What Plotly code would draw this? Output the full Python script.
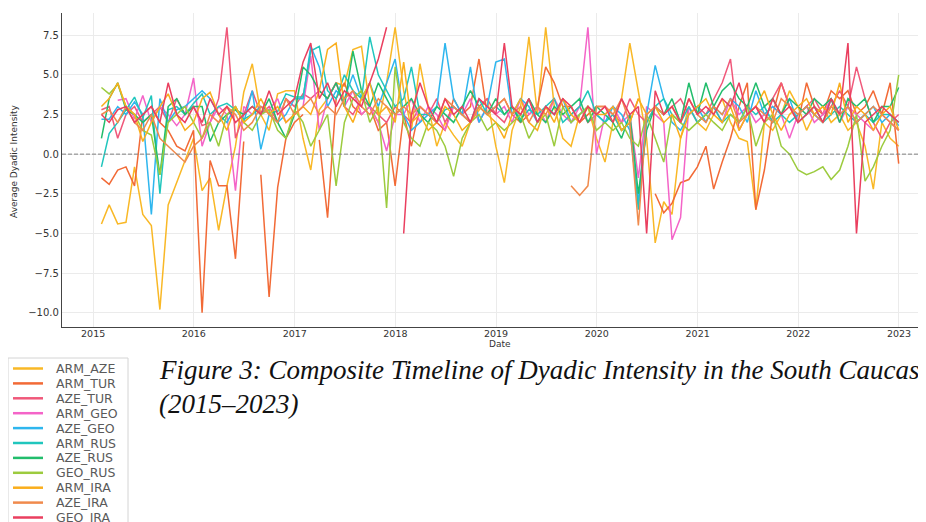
import pandas as pd
import plotly.graph_objects as go

N = None
dates = pd.date_range("2015-01-31", periods=96, freq="ME").strftime("%Y-%m-%d").tolist()

names = ["ARM_AZE", "ARM_TUR", "AZE_TUR", "ARM_GEO", "AZE_GEO", "ARM_RUS",
         "AZE_RUS", "GEO_RUS", "ARM_IRA", "AZE_IRA", "GEO_IRA"]
colors = ["#F9B826", "#F26A36", "#F0587A", "#F464C8", "#2EB6EE", "#20C6BD",
          "#22BD6C", "#9CCB3E", "#FAAE1C", "#F08A4C", "#EA3F5F"]

ARM_AZE = [
    -4.4, -3.2, -4.4, -4.3, -0.8, -3.8, -4.5, -9.8, -3.2, -1.8, -0.4, 1.0,
    -2.3, -1.5, -4.8, -2.0, 0.5, 3.9, 5.7, 2.5, 1.5, 3.8, 4.0, 4.0,
    1.0, -1.0, 2.8, 3.5, 4.5, 4.3, 6.6, 6.8, 3.0, 2.0, 4.5, 8.0,
    4.0, 1.5, 5.7, 3.0, 0.5, 2.0, 1.2, 0.5, 2.0, 2.8, 3.5, 0.5,
    -1.8, 1.5, 3.0, 7.4, 2.5, 8.0, 3.0, 1.0, 0.5, 2.5, 3.0, 1.0,
    -0.5, 2.0, 3.5, 7.0, 4.0, 1.0, -5.6, -3.0, -3.8, 1.0, 3.0, 2.0,
    1.5, 2.5, 3.5, 2.0, 1.0, 0.8, -3.5, 2.0, 1.5, 2.5, 4.0, 3.0,
    1.5, 2.5, 3.0, 2.0, 2.5, 1.5, 2.0, 0.5, -2.2, 2.0, 1.0, 0.5]
ARM_TUR = [
    -1.5, -1.9, -1.0, -0.8, -2.0, 2.5, 3.0, 2.0, 1.5, 0.5, 0.2, 1.5,
    -10.0, -0.4, -2.0, -2.0, -6.6, 0.8, N, -1.3, -9.0, -2.1, 1.0, 2.0,
    2.5, N, 0.9, -4.0, 3.5, 4.5, 3.0, 2.5, 3.0, 1.5, 2.0, -2.0,
    2.5, 0.5, 3.0, 2.5, 2.0, 1.5, 3.5, 2.5, 3.0, 6.0, 2.5, 3.0,
    3.5, 2.5, 2.0, 2.5, 3.0, 5.5, 4.5, 3.0, 3.0, 2.0, 2.5, 3.0,
    3.0, 2.5, 1.5, 2.0, 3.5, N, -2.5, -3.7, -3.1, -1.8, -1.6, -0.8,
    0.5, -2.2, -0.5, 1.0, 3.0, 4.5, -3.5, -1.0, 2.5, 4.5, 3.0, 2.0,
    4.5, 3.0, 2.5, 4.0, 3.5, 4.0, 2.5, 3.0, 4.0, 2.5, 4.5, -0.6]
AZE_TUR = [
    2.8, 3.0, 1.0, 2.5, 3.0, 2.0, 2.5, 3.0, 2.0, 3.5, 2.5, 3.0,
    1.8, 2.0, 3.5, 8.0, 1.0, 2.5, 4.0, 2.5, 3.0, 2.0, 3.5, 3.0,
    3.8, 3.5, 4.0, 3.5, 4.5, 3.0, 2.5, 3.5, 3.0, 2.5, 2.0, 3.0,
    2.5, 2.0, 3.0, 2.5, 3.5, 2.0, 3.0, 2.5, 2.0, 3.0, 3.5, 2.5,
    2.0, 3.0, 2.5, 3.5, 2.0, 3.0, 2.5, 3.5, 2.5, 3.0, 2.0, 2.5,
    3.0, 2.5, 2.0, 3.5, 2.5, 2.0, 3.0, 2.5, 3.0, 3.5, 2.5, 3.0,
    2.5, 3.5, 4.5, 6.0, 1.5, 2.5, 3.0, 2.0, 3.5, 4.5, 3.0, 2.5,
    3.0, 3.5, 2.5, 3.0, 4.0, 3.0, 5.5, 3.5, 2.0, 1.0, 2.0, 2.5]
ARM_GEO = [
    N, N, 3.4, 3.5, 2.2, 3.7, 2.0, 3.0, 2.5, 1.8, 2.5, 4.8,
    0.5, 2.0, 3.0, 2.5, -2.3, 3.0, 2.5, 3.0, 2.8, 3.5, 2.0, 2.5,
    3.0, 6.2, 1.5, 3.5, 4.5, 3.0, 4.0, 2.5, 3.0, 2.0, 0.2, 2.5,
    2.5, 3.5, 2.0, 3.0, 2.5, 1.5, 3.0, 2.5, 3.5, 2.0, 3.0, 2.5,
    3.0, 2.0, 3.5, 2.5, 3.0, 2.0, 3.5, 2.5, 2.0, 3.0, 8.0, 0.0,
    2.5, 3.0, 2.0, 2.5, -1.5, 3.0, 2.5, 2.0, -5.4, -4.0, 3.0, 2.0,
    2.5, 3.0, 2.0, 3.5, 2.5, 3.0, 2.0, 2.5, 3.0, 2.5, 1.0, 2.5,
    3.0, 2.0, 2.5, 3.5, 2.0, 3.0, 2.5, 2.0, 1.5, 2.5, 2.0, 1.5]
AZE_GEO = [
    2.2, 2.2, 3.0, 2.5, 3.3, 2.5, -3.8, 3.5, 2.0, 2.8, 3.0, 3.5,
    4.0, 3.5, 2.5, 2.0, 3.0, 2.0, 4.0, 0.3, 2.5, 2.0, 2.5, 3.5,
    3.5, 6.8, 5.5, 3.0, 4.0, 3.5, 5.0, 3.5, 4.5, 3.0, 4.5, 6.0,
    2.5, 1.5, 2.0, 2.5, 3.0, 7.0, 3.5, 2.5, 5.5, 2.0, 3.0, 5.8,
    6.0, 2.5, 3.5, 3.0, 2.0, 3.0, 2.5, 3.5, 2.0, 2.5, 3.0, 2.5,
    2.0, 3.0, 2.5, 1.5, -3.0, 2.5, 5.6, 3.5, 2.0, 1.5, 2.5, 3.0,
    2.0, 3.0, 2.5, 3.5, 3.0, 2.0, 4.0, 2.5, 3.0, 2.5, 3.5, 2.0,
    2.5, 3.0, 2.0, 3.5, 2.5, 3.0, 2.0, 2.5, 3.0, 2.0, 2.5, 1.8]
ARM_RUS = [
    -0.8, 1.3, 2.0, 2.8, 3.6, 2.3, 3.7, -2.5, 2.8, 3.0, 2.5, 3.2,
    3.8, 2.5, 3.0, 3.2, 2.8, 2.2, 2.5, 3.0, 2.6, 2.7, 3.8, 3.6,
    3.6, 6.5, 6.8, 4.0, 3.5, 5.0, 4.0, 3.5, 7.4, 5.0, 4.0, 3.0,
    3.5, 5.5, 2.5, 2.5, 2.0, 2.8, 3.0, 2.5, 2.0, 3.5, 2.5, 3.0,
    2.5, 3.0, 2.2, 2.8, 2.5, 3.0, 3.5, 2.0, 2.5, 3.0, 4.0, 2.5,
    2.0, 2.5, 1.5, 2.0, -3.5, 2.0, 3.0, 3.5, 2.5, 2.0, 3.0, 2.0,
    2.5, 3.0, 2.0, 2.5, 2.0, 3.0, 2.5, 3.0, 2.0, 2.5, 2.0, 2.5,
    3.0, 2.5, 2.0, 2.5, 3.0, 2.5, 2.0, 2.5, 2.0, 2.5, 2.5, 2.0]
AZE_RUS = [
    1.0, 3.5, 4.5, 2.8, 2.5, 2.0, 2.5, -1.3, 3.0, 3.5, 2.5, 3.0,
    3.0, 0.8, 2.0, 2.5, 2.8, 2.5, 3.0, 2.5, 3.5, 2.0, 1.0, 2.5,
    5.5, 5.0, 4.0, 3.5, 4.5, 3.0, 6.5, 4.0, 3.0, 4.5, 3.5, 2.5,
    3.0, 3.5, 2.5, 2.0, 3.0, 2.5, 2.0, 3.0, 4.0, 3.0, 2.5, 3.5,
    2.5, 3.0, 2.0, 3.5, 2.5, 2.0, 3.0, 2.5, 3.0, 3.5, 2.0, 3.0,
    2.5, 2.0, 1.0, 2.5, -2.5, 1.5, 3.0, 2.5, 3.5, 2.0, 4.5, 2.5,
    4.5, 3.0, 4.0, 4.5, 3.5, 3.0, 4.5, 3.0, 3.5, 2.5, 3.5, 3.0,
    2.5, 3.5, 3.0, 3.5, 2.0, 3.5, 3.0, 3.5, 2.0, 3.0, 3.0, 4.2]
GEO_RUS = [
    4.2, 3.8, 4.4, 3.0, 2.5, 1.5, 1.2, -1.3, 2.0, 2.5, 3.0, 2.0,
    1.0, 2.0, 0.5, 2.5, 3.0, 2.0, 1.5, 2.5, 2.8, 1.5, 1.0, 2.8,
    2.0, 0.5, 1.5, 2.5, -2.0, 2.0, 3.5, 4.0, 2.0, 3.0, -3.4, 5.5,
    2.0, 1.0, 0.5, 2.0, 1.5, 0.5, -1.4, 1.0, 2.0, 2.5, 1.5, 2.0,
    1.5, 2.0, 2.5, 1.0, 2.0, 2.5, 0.5, 3.0, 2.0, 2.5, 3.0, 1.5,
    2.0, 1.5, 2.0, 1.0, 0.5, 2.5, 1.0, -0.5, 2.5, 2.0, 1.5, 2.0,
    2.5, 2.0, 1.5, 2.5, 2.0, 3.0, 0.5, 2.0, 2.5, 0.5, 0.0, -1.0,
    -1.3, -1.1, -0.8, -1.6, -1.0, 0.5, 2.5, -1.7, -0.8, 0.5, 1.5, 5.0]
ARM_IRA = [
    3.0, 3.5, 4.5, 3.0, 2.5, 0.8, 2.0, 3.0, 3.8, 2.5, 1.5, 2.0,
    3.5, 3.9, 2.5, 1.5, 3.0, 2.0, 2.5, 3.5, 2.5, 3.0, 2.0, 2.5,
    3.0, 2.5, 4.0, 6.6, 7.0, 3.0, 2.0, 3.5, 4.5, 2.5, 3.0, 2.0,
    5.8, 2.0, 2.5, 1.5, 2.0, 3.0, 2.5, 1.5, 2.0, 3.0, 2.5, 2.0,
    1.0, 2.5, 3.5, 2.0, 1.5, 3.0, 2.0, 3.5, 2.5, 2.0, 3.0, 2.5,
    2.5, 3.0, 1.5, 2.0, 3.5, 2.5, 3.0, 2.0, 2.5, 1.0, 2.5, 3.0,
    3.5, 2.5, 2.0, 3.0, 1.5, 2.5, 3.0, 4.0, 2.5, 1.5, 2.5, 3.0,
    3.5, 2.5, 3.0, 2.5, 4.5, 2.0, 3.0, 2.5, 1.5, 2.5, 3.0, 1.5]
AZE_IRA = [
    2.5, 2.8, 2.0, 3.0, 2.0, 1.5, 2.5, 1.0, 0.5, 0.0, -0.5, 0.5,
    1.0, 2.5, 2.0, 3.0, 2.5, 1.5, 2.0, 3.0, 2.5, 2.0, 3.5, 2.5,
    3.0, 3.5, 2.5, 3.0, 2.5, 3.5, 4.0, 3.0, 2.5, 3.5, 3.0, 2.5,
    3.0, 2.5, 3.0, 2.5, 2.0, 3.5, 3.0, 2.5, 2.0, 3.0, 2.5, 3.0,
    3.5, 2.5, 3.0, 2.0, 3.0, 2.5, 3.5, N, -2.0, -2.6, -2.0, 3.0,
    3.0, 2.5, 3.5, 2.0, -4.5, 2.5, 3.0, 2.5, 3.0, 2.0, 3.5, 2.5,
    2.0, 3.0, 2.5, 3.5, 2.0, 2.5, 3.0, 2.5, 2.0, 3.5, 3.0, 2.5,
    3.0, 2.5, 2.0, 3.0, 2.5, 3.0, 2.0, 2.5, 3.0, 2.5, 2.0, 1.5]
GEO_IRA = [
    2.5, 2.0, 2.8, 3.0, 2.0, 2.5, 3.0, 2.0, 4.5, 2.5, 2.0, 3.0,
    2.0, 3.5, 2.5, 3.0, 2.0, 2.5, 3.0, 2.5, 4.0, 2.5, 3.0, 3.5,
    5.8, 7.0, 3.5, 4.5, 3.0, 4.0, 3.5, 3.0, 4.5, 6.0, 8.0, N,
    -5.0, 2.5, 4.5, 3.0, 2.0, 3.5, 2.5, 3.0, 2.0, 3.5, 3.0, 2.5,
    7.0, 3.0, 2.5, 3.5, 2.0, 3.0, 2.5, 3.5, 3.0, 2.0, 3.0, 2.5,
    3.0, 2.0, 3.5, 2.5, 3.0, -5.0, 4.0, 2.5, 3.0, 2.0, 3.5, 2.5,
    3.0, 2.5, 3.5, 3.0, 4.5, 2.5, 3.0, 2.0, 3.5, 2.5, 3.0, 2.0,
    2.5, 3.0, 2.0, 3.5, 2.5, 7.0, -5.0, 2.0, 2.5, 3.0, 2.5, 2.0]

series = [ARM_AZE, ARM_TUR, AZE_TUR, ARM_GEO, AZE_GEO, ARM_RUS,
          AZE_RUS, GEO_RUS, ARM_IRA, AZE_IRA, GEO_IRA]

year_ticks = [str(y) for y in range(2015, 2024)]
y_ticks = [-10.0, -7.5, -5.0, -2.5, 0.0, 2.5, 5.0, 7.5]

# page body has an 8px margin, so the figure starts at (8, 8) in the window
OFF = 8
W, H = 926 - OFF, 522 - OFF
PL, PT, PR, PB = 62, 13, 926, 327          # plot box in window pixels
L, T = PL - OFF, PT - OFF
R, B = W - (PR - OFF), H - (PB - OFF)
PW, PH = W - L - R, H - T - B


def px(xw):
    return (xw - PL) / PW


def py(yw):
    return (PB - yw) / PH


fig = go.Figure()
for name, vals, col in zip(names, series, colors):
    fig.add_trace(go.Scatter(x=dates, y=vals, mode="lines", name=name,
                             line=dict(color=col, width=1.5),
                             connectgaps=False, showlegend=False))

shapes = [dict(type="line", xref="paper", yref="y", x0=0, x1=1, y0=0, y1=0,
               line=dict(color="#808080", width=1, dash="4px,2px"), layer="above")]
annotations = []

# legend box
shapes.append(dict(type="rect", xref="paper", yref="paper",
                   x0=px(8), x1=px(128), y0=py(358), y1=py(540),
                   line=dict(color="#d4d4d4", width=1), fillcolor="white"))
for k, (name, col) in enumerate(zip(names, colors)):
    yc = 368.5 + 14.9 * k
    shapes.append(dict(type="line", xref="paper", yref="paper",
                       x0=px(13), x1=px(43), y0=py(yc), y1=py(yc),
                       line=dict(color=col, width=2.5)))
    annotations.append(dict(xref="paper", yref="paper", x=px(54), y=py(yc),
                            text=name, showarrow=False, xanchor="left",
                            yanchor="middle",
                            font=dict(family="DejaVu Sans", size=12.5, color="#5a5a5a")))

# axis titles
annotations.append(dict(xref="paper", yref="paper", x=px(14), y=py(162),
                        text="Average Dyadic Intensity", showarrow=False,
                        textangle=-90, xanchor="center", yanchor="middle",
                        font=dict(family="DejaVu Sans", size=9, color="#333333")))
annotations.append(dict(xref="paper", yref="paper", x=px(500), y=py(344),
                        text="Date", showarrow=False, xanchor="center",
                        yanchor="middle",
                        font=dict(family="DejaVu Sans", size=9, color="#333333")))

# caption
cap_font = dict(family="Liberation Serif", size=27, color="#111111", style="italic")
annotations.append(dict(xref="paper", yref="paper", x=px(157), y=py(370),
                        text="Figure 3: Composite Timeline of Dyadic Intensity in the South Caucasus",
                        showarrow=False, xanchor="left", yanchor="middle",
                        font=cap_font))
annotations.append(dict(xref="paper", yref="paper", x=px(157), y=py(404),
                        text="(2015–2023)", showarrow=False, xanchor="left",
                        yanchor="middle", font=cap_font))

fig.update_layout(
    width=W, height=H,
    margin=dict(l=L, r=R, t=T, b=B, autoexpand=False),
    paper_bgcolor="white", plot_bgcolor="white",
    shapes=shapes, annotations=annotations,
    showlegend=False,
    xaxis=dict(range=["2014-09-10", "2023-04-09"],
               tickvals=[f"{y}-01-01" for y in year_ticks], ticktext=year_ticks,
               showgrid=True, gridcolor="#ebebeb", gridwidth=1,
               showline=True, linecolor="#444444", linewidth=1.3,
               ticks="", ticklabelstandoff=-3,
               tickfont=dict(family="DejaVu Sans", size=9.5, color="#333333"),
               zeroline=False),
    yaxis=dict(range=[-10.9, 8.9], tickvals=y_ticks, tickformat=".1f",
               showgrid=True, gridcolor="#ebebeb", gridwidth=1,
               showline=True, linecolor="#444444", linewidth=1.3,
               ticks="",
               tickfont=dict(family="DejaVu Sans", size=10, color="#333333"),
               zeroline=False),
)

fig.write_html("out.html")
